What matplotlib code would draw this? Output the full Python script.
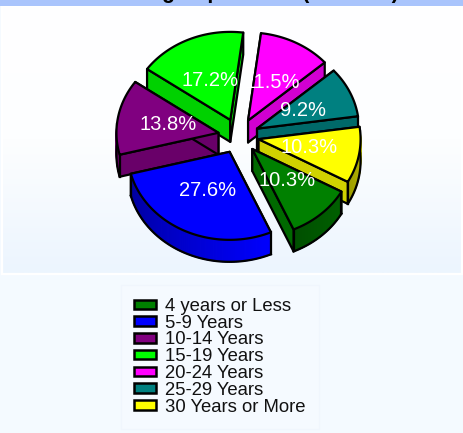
import numpy as np
import matplotlib
matplotlib.use("Agg")
import matplotlib.pyplot as plt
from matplotlib.patches import Polygon, Patch, Rectangle
from matplotlib.colors import to_rgb, LinearSegmentedColormap

categories = ["4 years or Less", "5-9 Years", "10-14 Years", "15-19 Years",
              "20-24 Years", "25-29 Years", "30 Years or More"]
percents = [10.3, 27.6, 13.8, 17.2, 11.5, 9.2, 10.3]
colors = ["#008000", "#0000ff", "#800080", "#00ff00", "#ff00ff", "#008080", "#ffff00"]
title = "Teaching Experience (in Years)"

W, H = 464, 433
CX, CY, RX, RY, DEPTH, EXPL, START = 238.5, 136, 102, 88, 22, 0.2, 29
draw_order = [3, 4, 5, 2, 6, 0, 1]

plt.rcParams["font.family"] = ["Liberation Sans", "DejaVu Sans"]
fig = plt.figure(figsize=(W / 100, H / 100), dpi=100)
ax = fig.add_axes([0, 0, 1, 1])
ax.axis("off")

# backgrounds
ax.add_patch(Rectangle((0, 0), W, H, fc="#f4faff", ec="none", zorder=0))
cmap = LinearSegmentedColormap.from_list("bg", ["#ffffff", "#fdfeff", "#ecf5fe"])
ax.imshow(np.linspace(0, 1, 200)[:, None], extent=(3, W - 3, 273, 6), cmap=cmap,
          aspect="auto", zorder=0.5, vmin=0, vmax=1)
ax.add_patch(Rectangle((2, 5), W - 4, 269, fc="none", ec="white", lw=1.6, zorder=0.6))
ax.set_xlim(0, W)
ax.set_ylim(H, 0)
ax.add_patch(Rectangle((0, 0), W, 5.7, fc="#a9c4fc", ec="none", zorder=1))
ax.text(W / 2 + 8, -1.7, title, ha="center", va="baseline", fontsize=15.5,
        fontweight="bold", color="black", zorder=2)


def shade(c, f):
    return tuple(np.clip(np.array(to_rgb(c)) * f, 0, 1))


fr = np.cumsum([0] + percents) / sum(percents) * 360 + START
for i in draw_order:
    t0, t1 = fr[i], fr[i + 1]
    mid = np.radians((t0 + t1) / 2)
    ox = CX + EXPL * RX * np.cos(mid)
    oy = CY + EXPL * RY * np.sin(mid)
    ts = np.radians(np.linspace(t0, t1, 80))
    xs = ox + RX * np.cos(ts)
    ys = oy + RY * np.sin(ts)
    z = 10 + draw_order.index(i)
    c = colors[i]
    # radial walls
    for j in (0, -1):
        ax.add_patch(Polygon([(ox, oy), (xs[j], ys[j]), (xs[j], ys[j] + DEPTH), (ox, oy + DEPTH)],
                             closed=True, fc=shade(c, 0.82), ec="black", lw=1.6, zorder=z,
                             joinstyle="round"))
    # rim wall, shaded along the arc of its own slice
    span = t1 - t0
    for k in range(len(ts) - 1):
        if np.sin(ts[k]) < -0.1:
            continue
        frac = 1 - k / (len(ts) - 2)
        f = 0.62 + 0.38 * frac * span / 100
        ax.add_patch(Polygon([(xs[k], ys[k]), (xs[k + 1], ys[k + 1]),
                              (xs[k + 1], ys[k + 1] + DEPTH), (xs[k], ys[k] + DEPTH)],
                             closed=True, fc=shade(c, f), ec=shade(c, f), lw=0.9, zorder=z))
    front = np.sin(ts) > -0.1
    if front.any():
        ax.plot(xs[front], ys[front] + DEPTH, color="black", lw=1.6, zorder=z)
        ax.plot([xs[front][0]] * 2, [ys[front][0], ys[front][0] + DEPTH], color="black", lw=1.6, zorder=z)
        ax.plot([xs[front][-1]] * 2, [ys[front][-1], ys[front][-1] + DEPTH], color="black", lw=1.6, zorder=z)
    # top face
    ax.add_patch(Polygon(np.column_stack([np.r_[ox, xs], np.r_[oy, ys]]), closed=True,
                         fc=c, ec="black", lw=1.6, zorder=z + 0.5, joinstyle="round"))
    # label
    lx = ox + 0.5 * RX * np.cos(mid)
    ly = oy + 0.49 * RY * np.sin(mid)
    ax.text(lx, ly, f"{percents[i]:.1f}%", color="white", fontsize=14.5, ha="center",
            va="center", zorder=40)

handles = [Patch(fc=c, ec="black", lw=1.8, label=l) for c, l in zip(colors, categories)]
leg = ax.legend(handles=handles, loc="upper left",
                bbox_to_anchor=(121 / W, 1 - 285 / H), bbox_transform=fig.transFigure,
                fontsize=13.3, frameon=True, fancybox=False, facecolor="#f6fbff",
                edgecolor="#f0f6fd", labelspacing=-0.012, handlelength=1.2, handleheight=0.42,
                handletextpad=0.5, borderaxespad=0, borderpad=0.7, labelcolor="#111111")
leg.set_zorder(50)

fig.savefig("out.png", dpi=100)
